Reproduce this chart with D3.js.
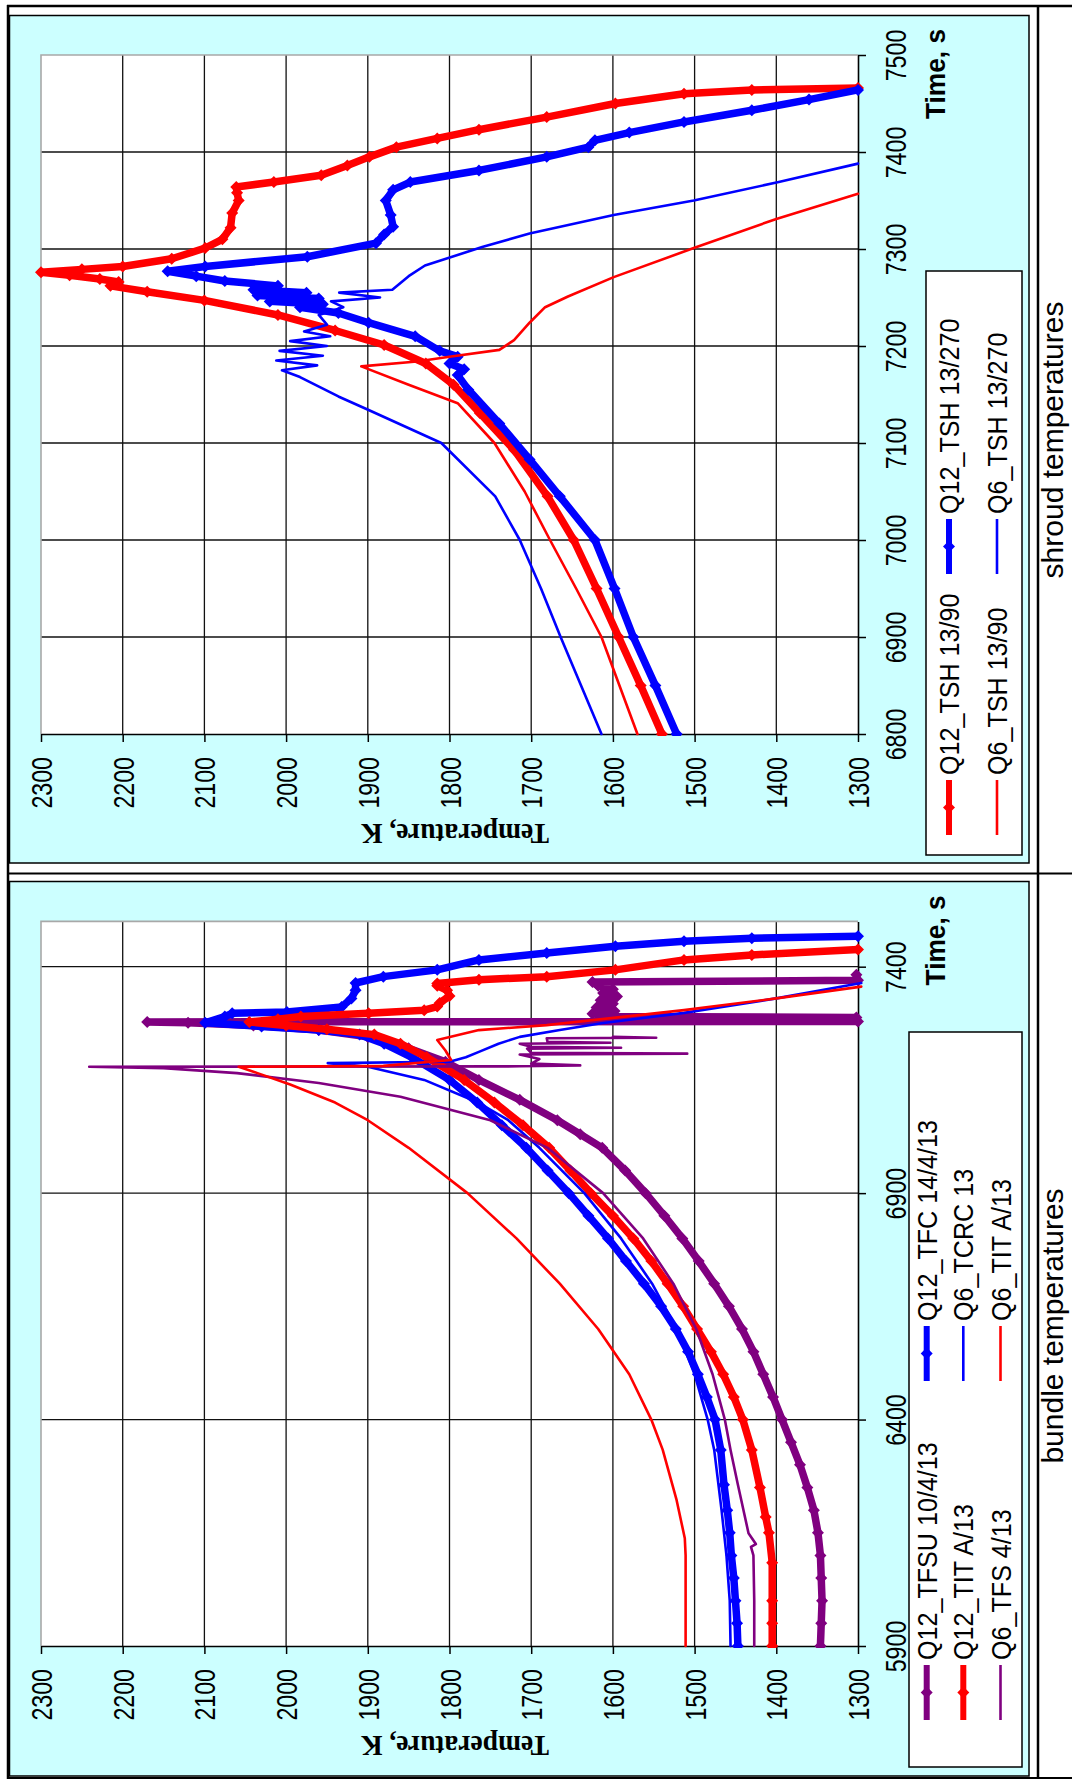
<!DOCTYPE html>
<html>
<head>
<meta charset="utf-8">
<title>Shroud and bundle temperatures</title>
<script src="https://cdn.jsdelivr.net/npm/d3@7"></script>
<style>
  html, body { margin: 0; padding: 0; background: #ffffff; }
  svg { display: block; }
</style>
</head>
<body>
<svg id="page" width="1072" height="1782"></svg>
<script>
// ---------- axis values and labels ----------
const tempTicks = [1300, 1400, 1500, 1600, 1700, 1800, 1900, 2000, 2100, 2200, 2300];
const shroudTimeTicks = [6800, 6900, 7000, 7100, 7200, 7300, 7400, 7500];
const bundleTimeTicks = [5900, 6400, 6900, 7400];
const tempAxisTitle = "Temperature, K";
const timeAxisTitle = "Time, s";
const shroudCaption = "shroud temperatures";
const bundleCaption = "bundle temperatures";

// ---------- shroud thermocouples: [time s, temperature K] ----------
const shroudNames = ["Q12_TSH 13/90", "Q12_TSH 13/270", "Q6_TSH 13/90", "Q6_TSH 13/270"];

const q12Tsh90 = [
  [6800,1540],[6850,1566],[6900,1593],[6950,1620],[7000,1648],[7045,1680],[7093,1721],[7131,1763],
  [7160,1795],[7182,1829],[7201,1880],[7216,1940],[7232,2010],[7247,2100],[7256,2170],[7262,2215],
  [7266,2205],[7269,2228],[7273,2265],[7276,2300],[7279,2250],[7282,2200],[7290,2140],[7301,2099],
  [7310,2078],[7322,2068],[7337,2066],[7350,2058],[7358,2060],[7364,2061],[7369,2015],[7376,1957],
  [7386,1925],[7395,1898],[7405,1865],[7414,1815],[7423,1764],[7436,1681],[7450,1597],[7460,1513],
  [7464,1430],[7466,1300]
];
const q12Tsh270 = [
  [6800,1522],[6850,1548],[6900,1575],[6950,1598],[7000,1622],[7045,1665],[7083,1702],[7120,1739],
  [7155,1777],[7170,1790],[7176,1782],[7182,1800],[7189,1790],[7195,1812],[7210,1842],[7224,1899],
  [7234,1936],[7240,1983],[7243,1955],[7246,2020],[7249,1960],[7252,2035],[7255,1975],[7258,2040],
  [7262,2010],[7267,2075],[7272,2110],[7277,2145],[7282,2099],[7292,1974],[7306,1890],[7315,1880],
  [7323,1869],[7335,1872],[7350,1878],[7361,1869],[7369,1848],[7381,1764],[7395,1681],[7405,1630],
  [7412,1622],[7420,1580],[7431,1513],[7443,1430],[7454,1360],[7464,1300]
];
const q6Tsh90 = [
  [6800,1570],[6850,1592],[6900,1614],[6950,1645],[7000,1677],[7050,1708],[7100,1745],[7141,1790],
  [7160,1850],[7179,1908],[7184,1840],[7189,1800],[7196,1739],[7206,1721],[7224,1702],[7240,1683],
  [7251,1655],[7271,1599],[7301,1501],[7331,1400],[7357,1300]
];
const q6Tsh270 = [
  [6800,1614],[6850,1639],[6900,1664],[6950,1688],[7000,1714],[7045,1744],[7100,1810],[7134,1899],
  [7148,1936],[7168,1983],[7175,2005],[7180,1962],[7185,2012],[7190,1955],[7195,2008],[7200,1950],
  [7205,1995],[7210,1946],[7215,1978],[7222,1950],[7232,1960],[7240,1930],[7246,1945],[7250,1885],
  [7255,1935],[7258,1870],[7272,1850],[7283,1830],[7302,1760],[7316,1702],[7335,1599],[7350,1501],
  [7369,1397],[7388,1300]
];

// ---------- bundle thermocouples: [time s, temperature K] ----------
const bundleNames = ["Q12_TFSU 10/4/13", "Q12_TFC 14/4/13", "Q12_TIT A/13",
                     "Q6_TCRC 13", "Q6_TFS 4/13", "Q6_TIT A/13"];

const q12Tfsu = [
  [5900,1346],[5950,1345],[6000,1344],[6050,1345],[6100,1346],[6150,1349],[6200,1354],[6250,1362],
  [6300,1371],[6350,1382],[6400,1393],[6450,1404],[6500,1416],[6550,1428],[6600,1442],[6650,1458],
  [6700,1476],[6750,1495],[6800,1515],[6850,1537],[6900,1560],[6950,1585],[7000,1613],[7030,1640],
  [7061,1668],[7106,1714],[7150,1764],[7190,1805],[7220,1850],[7245,1900],[7260,1960],[7270,2040],
  [7276,2120],[7278,2170],[7279,1300],[7288,1302],[7290,1600],[7296,1625],[7302,1598],[7310,1620],
  [7318,1600],[7326,1615],[7334,1595],[7342,1612],[7350,1600],[7358,1618],[7366,1625],[7370,1300],
  [7382,1302]
];
const q12Tfc = [
  [5900,1447],[5950,1448],[6000,1450],[6050,1452],[6100,1455],[6150,1457],[6200,1460],[6256,1464],
  [6333,1468],[6400,1475],[6450,1485],[6500,1496],[6550,1508],[6600,1523],[6650,1541],[6700,1562],
  [6750,1584],[6800,1606],[6850,1630],[6900,1654],[6950,1680],[7000,1706],[7050,1736],[7100,1766],
  [7150,1800],[7200,1846],[7230,1880],[7250,1910],[7260,1960],[7268,2030],[7276,2099],[7290,2075],
  [7297,2066],[7300,1999],[7311,1932],[7330,1920],[7348,1915],[7364,1915],[7378,1881],[7393,1815],
  [7415,1764],[7430,1681],[7445,1597],[7456,1513],[7463,1430],[7467,1300]
];
const q12Tit = [
  [5900,1405],[5950,1405],[6000,1405],[6084,1405],[6150,1409],[6185,1413],[6250,1420],[6333,1430],
  [6400,1441],[6450,1452],[6500,1465],[6550,1480],[6600,1497],[6650,1514],[6700,1533],[6750,1553],
  [6800,1575],[6850,1600],[6900,1627],[6950,1652],[7000,1678],[7050,1710],[7100,1745],[7150,1782],
  [7200,1828],[7230,1860],[7250,1892],[7262,1950],[7270,2000],[7278,2045],[7284,2010],[7290,1982],
  [7297,1899],[7304,1831],[7312,1815],[7320,1812],[7335,1800],[7348,1803],[7358,1815],[7363,1815],
  [7371,1764],[7378,1681],[7393,1597],[7415,1513],[7426,1430],[7438,1300]
];
const q6Tcrc = [
  [5900,1456],[6000,1457],[6100,1461],[6200,1467],[6333,1476],[6400,1484],[6500,1500],[6600,1522],
  [6700,1552],[6800,1590],[6900,1635],[7000,1690],[7061,1728],[7100,1765],[7150,1831],[7179,1900],
  [7187,1949],[7190,1800],[7200,1780],[7212,1764],[7230,1740],[7245,1714],[7260,1665],[7275,1614],
  [7298,1513],[7330,1400],[7364,1296]
];
const q6Tfs = [
  [5900,1427],[6000,1427],[6100,1428],[6119,1431],[6125,1425],[6149,1434],[6256,1447],[6333,1456],
  [6400,1463],[6500,1478],[6600,1498],[6700,1526],[6800,1563],[6900,1612],[7000,1680],[7061,1750],
  [7113,1860],[7143,1960],[7165,2060],[7176,2150],[7179,2241],[7180,1714],[7182,1640],[7186,1700],
  [7196,1690],[7206,1714],[7208,1509],[7210,1700],[7219,1705],[7221,1590],[7223,1700],[7230,1714],
  [7232,1603],[7234,1680],[7242,1681],[7243,1547],[7245,1600]
];
const q6Tit = [
  [5900,1511],[6000,1511],[6100,1511],[6138,1512],[6222,1522],[6333,1539],[6400,1553],[6500,1580],
  [6600,1618],[6700,1665],[6800,1718],[6900,1778],[7000,1850],[7061,1900],[7100,1940],[7140,1995],
  [7165,2035],[7179,2058],[7181,1881],[7194,1798],[7215,1805],[7238,1815],[7260,1764],[7271,1681],
  [7304,1513],[7330,1400],[7356,1296]
];

const shroudValues = [q12Tsh90, q12Tsh270, q6Tsh90, q6Tsh270];
const bundleValues = [q12Tfsu, q12Tfc, q12Tit, q6Tcrc, q6Tfs, q6Tit];

// ---------- styles ----------
const RED = "#ff0000", BLUE = "#0000ff", PURPLE = "#800080";
const shroudStyles = [
  { color: RED, marker: true }, { color: BLUE, marker: true },
  { color: RED, marker: false }, { color: BLUE, marker: false }
];
const bundleStyles = [
  { color: PURPLE, marker: true }, { color: BLUE, marker: true }, { color: RED, marker: true },
  { color: BLUE, marker: false }, { color: PURPLE, marker: false }, { color: RED, marker: false }
];
const SANS = "'Liberation Sans', Arial, Helvetica, sans-serif";
const SERIF = "'Liberation Serif', 'Times New Roman', serif";
const CHART_BG = "#ccffff";

// ---------- page layout (the document is set sideways) ----------
const panels = [
  {
    names: shroudNames, values: shroudValues, styles: shroudStyles,
    timeTicks: shroudTimeTicks, tStart: 6800,
    box: { x: 9.5, y: 15.5, w: 1019.5, h: 847.5 },
    plot: { left: 41, right: 858, top: 55, bottom: 734 },
    legend: { x: 926, y: 271, w: 96, h: 584, colX: [949, 997], rowEnd: [835, 574] },
    caption: shroudCaption, captionY: 440
  },
  {
    names: bundleNames, values: bundleValues, styles: bundleStyles,
    timeTicks: bundleTimeTicks, tStart: 5900,
    box: { x: 9.5, y: 881.5, w: 1019.5, h: 894.5 },
    plot: { left: 41, right: 858, top: 921.4, bottom: 1646 },
    legend: { x: 909, y: 1032, w: 113, h: 735, colX: [926.7, 963.3, 1000.5], rowEnd: [1720, 1381] },
    caption: bundleCaption, captionY: 1326
  }
];

const svg = d3.select("#page");

// squeeze text horizontally along its own baseline
function condense(sel, f) {
  sel.each(function () {
    const w = this.getComputedTextLength();
    d3.select(this).attr("textLength", w * f).attr("lengthAdjust", "spacingAndGlyphs");
  });
}
const diamond = r => `M0,${-r}L${r},0L0,${r}L${-r},0Z`;

// ---------- table rules ----------
function rule(x1, y1, x2, y2, w) {
  svg.append("line").attr("x1", x1).attr("y1", y1).attr("x2", x2).attr("y2", y2)
    .attr("stroke", "#000").attr("stroke-width", w);
}

panels.forEach((p, pi) => {
  const g = svg.append("g").attr("class", "panel-" + pi);

  // chart area
  g.append("rect")
    .attr("x", p.box.x).attr("y", p.box.y).attr("width", p.box.w).attr("height", p.box.h)
    .attr("fill", CHART_BG).attr("stroke", "#000").attr("stroke-width", 1.5);

  const x = d3.scaleLinear().domain([2300, 1300]).range([p.plot.left, p.plot.right]);
  const y = d3.scaleLinear().domain([p.tStart, 7500]).range([p.plot.bottom, p.plot.top]);
  const P = p.plot;

  // plot area
  g.append("rect").attr("x", P.left).attr("y", P.top)
    .attr("width", P.right - P.left).attr("height", P.bottom - P.top).attr("fill", "#fff");

  // gridlines
  g.append("g").selectAll("line")
    .data(tempTicks.filter(t => t !== 2300 && t !== 1300)).join("line")
    .attr("x1", d => x(d)).attr("x2", d => x(d)).attr("y1", P.top).attr("y2", P.bottom)
    .attr("stroke", "#111").attr("stroke-width", 1.3);
  g.append("g").selectAll("line")
    .data(p.timeTicks.filter(t => t !== p.tStart && t !== 7500)).join("line")
    .attr("x1", P.left).attr("x2", P.right).attr("y1", d => y(d)).attr("y2", d => y(d))
    .attr("stroke", "#111").attr("stroke-width", 1.3);

  // plot border on the two sides without axes
  g.append("path").attr("d", `M${P.left},${P.bottom}V${P.top}H${P.right}`)
    .attr("fill", "none").attr("stroke", "#a8a8a8").attr("stroke-width", 1.6);

  // temperature axis (along the bottom)
  const tAxis = g.append("g").attr("transform", `translate(0,${P.bottom})`)
    .call(d3.axisBottom(x).tickValues(tempTicks).tickSizeInner(8).tickSizeOuter(0)
      .tickFormat(d3.format("d")));
  tAxis.attr("font-family", SANS).attr("font-size", 29);
  tAxis.select(".domain").attr("stroke", "#000").attr("stroke-width", 1.6);
  tAxis.selectAll(".tick line").attr("stroke", "#000").attr("stroke-width", 1.5);
  tAxis.selectAll(".tick text")
    .attr("x", 0).attr("y", 0).attr("dy", null)
    .attr("transform", "translate(10.5,23) rotate(-90)")
    .attr("text-anchor", "end").attr("fill", "#000");
  condense(tAxis.selectAll(".tick text"), 0.8);

  // time axis (along the right side)
  const yAxis = g.append("g").attr("transform", `translate(${P.right},0)`)
    .call(d3.axisRight(y).tickValues(p.timeTicks).tickSizeInner(8).tickSizeOuter(0)
      .tickFormat(d3.format("d")));
  yAxis.attr("font-family", SANS).attr("font-size", 29);
  yAxis.select(".domain").attr("stroke", "#000").attr("stroke-width", 1.6);
  yAxis.selectAll(".tick line").attr("stroke", "#000").attr("stroke-width", 1.5);
  yAxis.selectAll(".tick text")
    .attr("x", 0).attr("y", 0).attr("dy", null)
    .attr("transform", "translate(48,0) rotate(-90)")
    .attr("text-anchor", "middle").attr("fill", "#000");
  condense(yAxis.selectAll(".tick text"), 0.8);

  // axis titles
  g.append("text")
    .attr("transform", `translate(455,${P.bottom + 90}) rotate(180)`)
    .attr("text-anchor", "middle")
    .attr("font-family", SERIF).attr("font-weight", "bold").attr("font-size", 29)
    .attr("textLength", 188).attr("lengthAdjust", "spacingAndGlyphs")
    .text(tempAxisTitle);
  g.append("text")
    .attr("transform", `translate(945,${P.top + 64}) rotate(-90)`)
    .attr("text-anchor", "start")
    .attr("font-family", SANS).attr("font-weight", "bold").attr("font-size", 27)
    .attr("textLength", 90).attr("lengthAdjust", "spacingAndGlyphs")
    .text(timeAxisTitle);

  // series
  const clipId = "clip-" + pi;
  g.append("clipPath").attr("id", clipId).append("rect")
    .attr("x", P.left - 9).attr("y", P.top - 2)
    .attr("width", P.right - P.left + 15).attr("height", P.bottom - P.top + 4);
  const lines = g.append("g").attr("clip-path", `url(#${clipId})`);
  const line = d3.line().x(d => x(d[1])).y(d => y(d[0]));

  p.values.forEach((vals, i) => {
    const st = p.styles[i];
    lines.append("path").datum(vals)
      .attr("d", line)
      .attr("fill", "none").attr("stroke", st.color)
      .attr("stroke-width", st.marker ? 7.5 : 2.6)
      .attr("stroke-linejoin", "round").attr("stroke-linecap", "round");
    if (st.marker) {
      lines.append("g").selectAll("path").data(vals).join("path")
        .attr("d", diamond(6))
        .attr("transform", d => `translate(${x(d[1])},${y(d[0])})`)
        .attr("fill", st.color);
    }
  });

  // legend
  const L = p.legend;
  const lg = g.append("g");
  lg.append("rect").attr("x", L.x).attr("y", L.y).attr("width", L.w).attr("height", L.h)
    .attr("fill", "#fff").attr("stroke", "#000").attr("stroke-width", 1.5);
  p.names.forEach((name, i) => {
    const st = p.styles[i];
    const cx = L.colX[Math.floor(i / 2)];
    const yEnd = L.rowEnd[i % 2];
    lg.append("line").attr("x1", cx).attr("x2", cx).attr("y1", yEnd - 55).attr("y2", yEnd)
      .attr("stroke", st.color).attr("stroke-width", st.marker ? 6 : 2.6);
    if (st.marker) {
      lg.append("path").attr("d", diamond(6))
        .attr("transform", `translate(${cx},${yEnd - 27.5})`).attr("fill", st.color);
    }
    lg.append("text")
      .attr("transform", `translate(${cx + 10},${yEnd - 60}) rotate(-90)`)
      .attr("font-family", SANS).attr("font-size", 27).attr("fill", "#000")
      .text(name);
  });
  condense(lg.selectAll("text"), 0.93);

  // caption cell text
  svg.append("text")
    .attr("transform", `translate(1063,${p.captionY}) rotate(-90)`)
    .attr("text-anchor", "middle")
    .attr("font-family", SANS).attr("font-size", 30).attr("fill", "#000")
    .text(p.caption);
});

// table borders and cell dividers
rule(7, 6, 1072, 6, 2.5);
rule(8, 5, 8, 1779, 2.5);
rule(7, 1778, 1072, 1778, 2);
rule(7, 873.5, 1072, 873.5, 2);
rule(1038, 5, 1038, 1779, 2.5);
</script>
</body>
</html>
